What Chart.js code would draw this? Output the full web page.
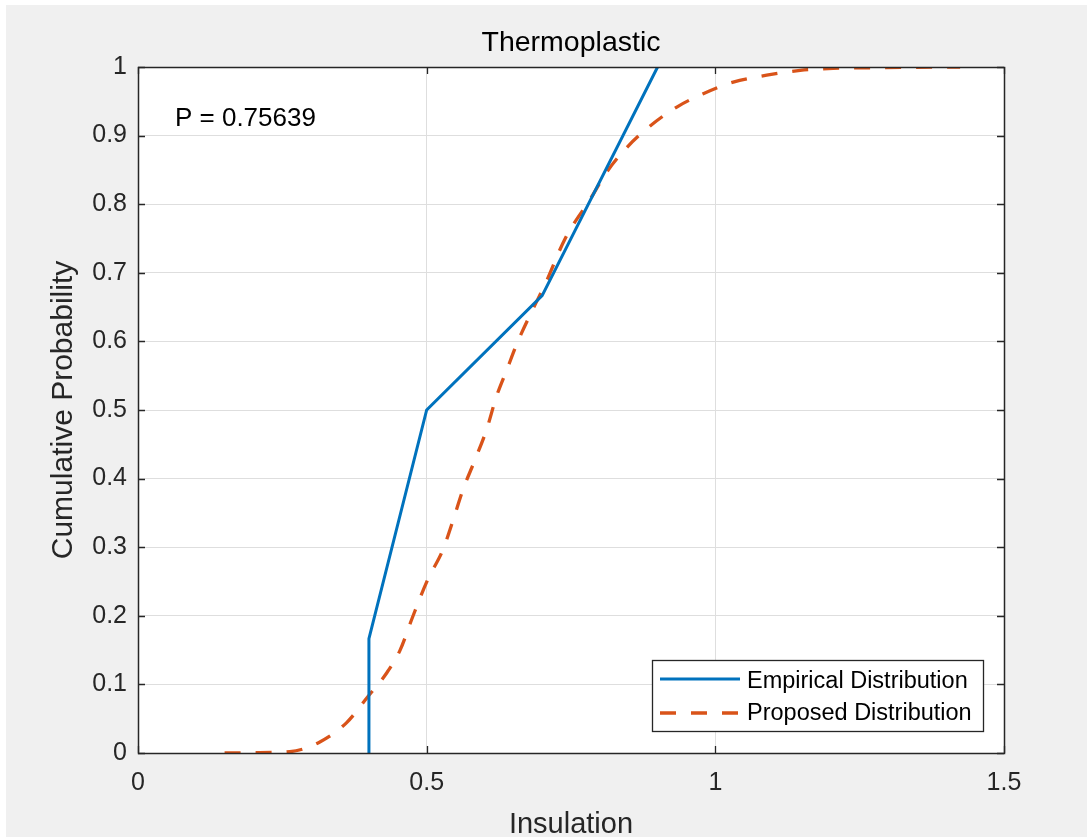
<!DOCTYPE html>
<html>
<head>
<meta charset="utf-8">
<script src="https://cdn.jsdelivr.net/npm/chart.js@4"></script>
<style>
  html, body { margin: 0; padding: 0; background: #ffffff; }
  #wrap { position: absolute; left: 6px; top: 5px; width: 1081px; height: 832px; background: #f0f0f0; }
  canvas { display: block; }
</style>
</head>
<body>
<div id="wrap"><canvas id="cdf" width="1081" height="832"></canvas></div>
<script>
const empiricalX = [0.4, 0.4, 0.5, 0.7, 0.9];
const empiricalY = [0, 0.1667, 0.5, 0.6667, 1];

const proposedX = [0.150, 0.200, 0.263, 0.315, 0.361, 0.398, 0.431, 0.454, 0.476, 0.502, 0.528,
    0.546, 0.563, 0.584, 0.604, 0.621, 0.639, 0.658, 0.684, 0.705, 0.740, 0.783, 0.812,
    0.847, 0.887, 0.934, 0.979, 1.031, 1.089, 1.147, 1.204, 1.285, 1.424];
const proposedY = [0, 0.0005, 0.002, 0.016, 0.044, 0.082, 0.117, 0.150, 0.199, 0.253, 0.296,
    0.340, 0.384, 0.428, 0.472, 0.520, 0.559, 0.600, 0.647, 0.683, 0.750, 0.807, 0.847,
    0.883, 0.914, 0.942, 0.961, 0.978, 0.988, 0.995, 0.998, 0.999, 1.0];

const xTicks = [0, 0.5, 1, 1.5];
const yTicks = [0, 0.1, 0.2, 0.3, 0.4, 0.5, 0.6, 0.7, 0.8, 0.9, 1];

const pLabel = 'P = 0.75639';

const toPoints = (xs, ys) => xs.map((x, i) => ({ x: x, y: ys[i] }));

const FONT = '"Liberation Sans", Arial, Helvetica, sans-serif';
const AXIS_COLOR = '#262626';

// white plot background, box with inward ticks, text note and legend
const axesBox = {
    id: 'axesBox',
    beforeDraw(chart) {
        const a = chart.chartArea;
        const ctx = chart.ctx;
        ctx.save();
        ctx.fillStyle = '#ffffff';
        ctx.fillRect(a.left, a.top, a.right - a.left, a.bottom - a.top);
        ctx.restore();
    },
    afterDraw(chart) {
        const a = chart.chartArea;
        const ctx = chart.ctx;
        const xs = chart.scales.x;
        const ys = chart.scales.y;
        const tl = 7;
        ctx.save();
        ctx.strokeStyle = AXIS_COLOR;
        ctx.lineWidth = 1.3;
        ctx.beginPath();
        xTicks.forEach(v => {
            const px = Math.round(xs.getPixelForValue(v)) + 0.5;
            ctx.moveTo(px, a.bottom); ctx.lineTo(px, a.bottom - tl);
            ctx.moveTo(px, a.top); ctx.lineTo(px, a.top + tl);
        });
        yTicks.forEach(v => {
            const py = Math.round(ys.getPixelForValue(v)) + 0.5;
            ctx.moveTo(a.left, py); ctx.lineTo(a.left + tl, py);
            ctx.moveTo(a.right, py); ctx.lineTo(a.right - tl, py);
        });
        ctx.stroke();
        ctx.lineWidth = 1.5;
        ctx.strokeRect(Math.round(a.left) + 0.5, Math.round(a.top) + 0.5,
            Math.round(a.right - a.left), Math.round(a.bottom - a.top));

        // P value note
        ctx.fillStyle = '#000000';
        ctx.font = '26px ' + FONT;
        ctx.textAlign = 'left';
        ctx.textBaseline = 'middle';
        ctx.fillText(pLabel, xs.getPixelForValue(0.064), ys.getPixelForValue(0.925));

        // legend, lower right
        const w = 331, h = 71;
        const lx = a.right - 21 - w, ly = a.bottom - 22 - h;
        ctx.fillStyle = '#ffffff';
        ctx.fillRect(lx, ly, w, h);
        ctx.strokeStyle = AXIS_COLOR;
        ctx.lineWidth = 1.3;
        ctx.strokeRect(lx + 0.5, ly + 0.5, w, h);
        ctx.font = '23.5px ' + FONT;
        const lineRows = [19, 53];
        const textRows = [22, 54];
        chart.data.datasets.forEach((ds, i) => {
            ctx.strokeStyle = ds.borderColor;
            ctx.lineWidth = ds.borderWidth;
            ctx.setLineDash(ds.borderDash || []);
            ctx.beginPath();
            ctx.moveTo(lx + 8, ly + lineRows[i]);
            ctx.lineTo(lx + 88, ly + lineRows[i]);
            ctx.stroke();
            ctx.setLineDash([]);
            ctx.fillStyle = '#000000';
            ctx.fillText(ds.label, lx + 95, ly + textRows[i]);
        });
        ctx.restore();
    }
};

new Chart(document.getElementById('cdf'), {
    type: 'scatter',
    data: {
        datasets: [{
            label: 'Empirical Distribution',
            data: toPoints(empiricalX, empiricalY),
            showLine: true,
            borderColor: '#0072BD',
            backgroundColor: '#0072BD',
            borderWidth: 3,
            pointRadius: 0,
            tension: 0
        }, {
            label: 'Proposed Distribution',
            data: toPoints(proposedX, proposedY),
            showLine: true,
            borderColor: '#D95319',
            backgroundColor: '#D95319',
            borderWidth: 3.3,
            borderDash: [16, 15],
            pointRadius: 0,
            cubicInterpolationMode: 'monotone'
        }]
    },
    options: {
        responsive: false,
        animation: false,
        layout: { padding: { left: 0, right: 83, top: 0, bottom: 0 } },
        plugins: {
            legend: { display: false },
            tooltip: { enabled: false },
            title: {
                display: true,
                text: 'Thermoplastic',
                fullSize: false,
                color: '#000000',
                font: { family: FONT, size: 28.5, weight: 'normal', lineHeight: 1.2 },
                padding: { top: 21, bottom: 6.8 }
            }
        },
        scales: {
            x: {
                type: 'linear',
                min: 0,
                max: 1.5,
                afterFit: s => { s.height = 84; },
                afterBuildTicks: s => { s.ticks = xTicks.map(v => ({ value: v })); },
                ticks: {
                    color: AXIS_COLOR,
                    padding: 15,
                    font: { family: FONT, size: 25 },
                    callback: v => String(v)
                },
                grid: { color: '#dedede', drawTicks: false },
                border: { display: false },
                title: {
                    display: true,
                    text: 'Insulation',
                    color: AXIS_COLOR,
                    font: { family: FONT, size: 29, lineHeight: 0.8 },
                    padding: { top: 0, bottom: 0 }
                }
            },
            y: {
                type: 'linear',
                min: 0,
                max: 1,
                afterFit: s => { s.width = 132; },
                afterBuildTicks: s => { s.ticks = yTicks.map(v => ({ value: v })); },
                ticks: {
                    color: AXIS_COLOR,
                    padding: 11,
                    font: { family: FONT, size: 25 },
                    callback: v => String(Math.round(v * 10) / 10)
                },
                grid: { color: '#dedede', drawTicks: false },
                border: { display: false },
                title: {
                    display: true,
                    text: 'Cumulative Probability',
                    color: AXIS_COLOR,
                    font: { family: FONT, size: 30, lineHeight: 1.1 },
                    padding: { top: 41, bottom: 0 }
                }
            }
        }
    },
    plugins: [axesBox]
});
</script>
</body>
</html>
